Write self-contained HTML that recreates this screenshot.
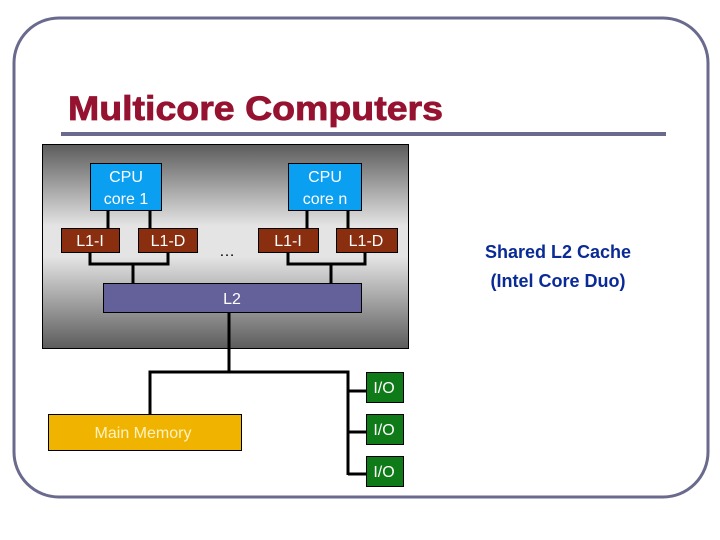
<!DOCTYPE html>
<html><head><meta charset="utf-8"><style>
html,body{margin:0;padding:0;background:#fff}
svg{display:block}
text{font-family:"Liberation Sans",Arial,sans-serif}
</style></head><body>
<svg width="720" height="540" viewBox="0 0 720 540" xmlns="http://www.w3.org/2000/svg">
<defs>
<linearGradient id="g" x1="0" y1="0" x2="0" y2="1">
<stop offset="0" stop-color="#5c5c5c"/>
<stop offset="0.4" stop-color="#e4e4e4"/>
<stop offset="0.55" stop-color="#e4e4e4"/>
<stop offset="1" stop-color="#5c5c5c"/>
</linearGradient>
</defs>
<rect x="14" y="18" width="694" height="479" rx="45" ry="45" fill="none" stroke="#6a6a8e" stroke-width="3"/>
<text x="68" y="120" font-size="34" font-weight="bold" fill="#951330" stroke="#951330" stroke-width="0.8" textLength="375" lengthAdjust="spacingAndGlyphs">Multicore Computers</text>
<rect x="61" y="132" width="605" height="4" fill="#6a6a8e"/>

<rect x="42.5" y="144.5" width="366" height="204" fill="url(#g)" stroke="#000" stroke-width="1"/>

<g stroke="#000" stroke-width="3" fill="none">
<line x1="108" y1="210" x2="108" y2="228"/>
<line x1="150" y1="210" x2="150" y2="228"/>
<line x1="307" y1="210" x2="307" y2="228"/>
<line x1="348" y1="210" x2="348" y2="228"/>
<polyline points="90,252 90,264 168,264 168,252"/>
<line x1="133" y1="264" x2="133" y2="283"/>
<polyline points="288,252 288,264 365,264 365,252"/>
<line x1="331" y1="264" x2="331" y2="283"/>
<line x1="229" y1="312" x2="229" y2="372"/>
<polyline points="150,414 150,372 348,372 348,475"/>
<line x1="348" y1="391" x2="366" y2="391"/>
<line x1="348" y1="432" x2="366" y2="432"/>
<line x1="348" y1="474" x2="366" y2="474"/>
</g>

<g stroke="#000" stroke-width="1">
<rect x="90.5" y="163.5" width="71" height="47" fill="#0a9ff0"/>
<rect x="288.5" y="163.5" width="73" height="47" fill="#0a9ff0"/>
<rect x="61.5" y="228.5" width="58" height="24" fill="#8a2e10"/>
<rect x="138.5" y="228.5" width="59" height="24" fill="#8a2e10"/>
<rect x="258.5" y="228.5" width="60" height="24" fill="#8a2e10"/>
<rect x="336.5" y="228.5" width="61" height="24" fill="#8a2e10"/>
<rect x="103.5" y="283.5" width="258" height="29" fill="#64609a"/>
<rect x="48.5" y="414.5" width="193" height="36" fill="#f0b400"/>
<rect x="366.5" y="372.5" width="37" height="30" fill="#0e7a18"/>
<rect x="366.5" y="414.5" width="37" height="30" fill="#0e7a18"/>
<rect x="366.5" y="456.5" width="37" height="30" fill="#0e7a18"/>
</g>

<g fill="#fff" font-size="16" text-anchor="middle">
<text x="126" y="182">CPU</text>
<text x="126" y="204">core 1</text>
<text x="325" y="182">CPU</text>
<text x="325" y="204">core n</text>
<text x="90" y="246">L1-I</text>
<text x="168" y="246">L1-D</text>
<text x="288" y="246">L1-I</text>
<text x="366" y="246">L1-D</text>
<text x="232" y="304">L2</text>
<text x="143" y="438" fill="#fff2c0">Main Memory</text>
<text x="384" y="393">I/O</text>
<text x="384" y="435">I/O</text>
<text x="384" y="477">I/O</text>
</g>
<text x="227" y="256" font-size="16" text-anchor="middle" fill="#000">…</text>

<g fill="#0a2a96" font-size="18" font-weight="bold" text-anchor="middle">
<text x="558" y="258">Shared L2 Cache</text>
<text x="558" y="287">(Intel Core Duo)</text>
</g>
</svg>
</body></html>
